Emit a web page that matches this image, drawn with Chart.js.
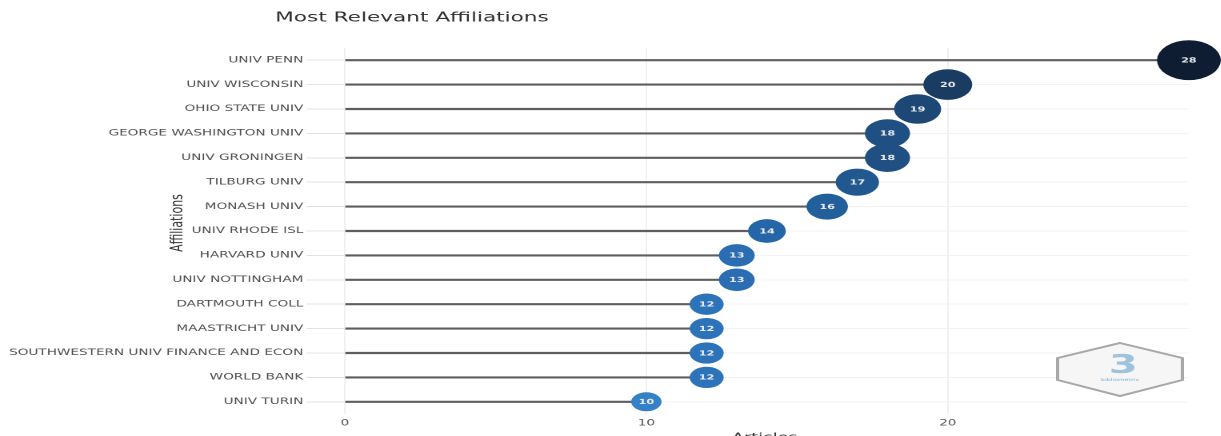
<!DOCTYPE html>
<html>
<head>
<meta charset="utf-8">
<title>Most Relevant Affiliations</title>
<script src="https://cdn.jsdelivr.net/npm/chart.js@4.4.1/dist/chart.umd.min.js"></script>
<style>
  html, body { margin: 0; padding: 0; background: #fff; overflow: hidden; }
  #wrap { width: 1221px; height: 436px; overflow: hidden; }
  /* the reference picture is stretched sideways, so the whole canvas is too */
  #chart { display: block; transform: scaleX(1.6); transform-origin: 0 0; }
</style>
</head>
<body>
<div id="wrap"><canvas id="chart" width="763" height="452"></canvas></div>
<script>
// ---------- Data ----------
const categories = [
  'UNIV PENN', 'UNIV WISCONSIN', 'OHIO STATE UNIV', 'GEORGE WASHINGTON UNIV',
  'UNIV GRONINGEN', 'TILBURG UNIV', 'MONASH UNIV', 'UNIV RHODE ISL',
  'HARVARD UNIV', 'UNIV NOTTINGHAM', 'DARTMOUTH COLL', 'MAASTRICHT UNIV',
  'SOUTHWESTERN UNIV FINANCE AND ECON', 'WORLD BANK', 'UNIV TURIN'
];
const articles = [28, 20, 19, 18, 18, 17, 16, 14, 13, 13, 12, 12, 12, 12, 10];
const xTicks = [0, 10, 20];
const xMax = 28;

// ---------- Styling helpers ----------
// colour by number of articles (darker = more)
const colorStops = [
  [10, [52, 129, 199]], [12, [45, 115, 186]], [13, [42, 109, 179]],
  [14, [37, 102, 168]], [16, [34, 95, 155]], [17, [33, 88, 143]],
  [18, [31, 79, 131]], [19, [29, 71, 116]], [20, [27, 60, 98]],
  [28, [15, 29, 50]]
];
function colorFor(v) {
  for (let i = 0; i < colorStops.length - 1; i++) {
    const [a, ca] = colorStops[i];
    const [b, cb] = colorStops[i + 1];
    if (v >= a && v <= b) {
      const t = (v - a) / (b - a);
      const c = ca.map((x, k) => Math.round(x + (cb[k] - x) * t));
      return `rgb(${c[0]},${c[1]},${c[2]})`;
    }
  }
  return 'rgb(15,29,50)';
}
function radiusFor(v) {
  return 9.5 + (v - 10) * 0.58;
}

const FONT = '"DejaVu Sans", Verdana, sans-serif';

// ---------- Extra drawing: titles, value labels, logo ----------
const decor = {
  id: 'decor',
  beforeDatasetsDraw(chart) {
    const ctx = chart.ctx;
    // bibliometrix style hexagon badge
    const cx = 700, cy = 369;
    ctx.save();
    ctx.beginPath();
    ctx.moveTo(cx, cy - 26);
    ctx.lineTo(cx + 39, cy - 11);
    ctx.lineTo(cx + 39, cy + 11);
    ctx.lineTo(cx, cy + 27);
    ctx.lineTo(cx - 39, cy + 11);
    ctx.lineTo(cx - 39, cy - 11);
    ctx.closePath();
    ctx.fillStyle = '#f6f6f6';
    ctx.fill();
    ctx.lineWidth = 2;
    ctx.strokeStyle = '#a8a8a8';
    ctx.stroke();
    ctx.fillStyle = '#9fc3dc';
    ctx.font = 'bold 26px ' + FONT;
    ctx.textAlign = 'center';
    ctx.textBaseline = 'middle';
    ctx.fillText('3', cx + 2, cy - 3);
    ctx.font = '4px ' + FONT;
    ctx.fillStyle = '#7fb0d4';
    ctx.fillText('bibliometrix', cx, cy + 11);
    ctx.restore();
  },
  afterDatasetsDraw(chart) {
    const ctx = chart.ctx;
    const meta = chart.getDatasetMeta(0);
    ctx.save();
    ctx.fillStyle = '#ececec';
    ctx.font = 'bold 7px ' + FONT;
    ctx.textAlign = 'center';
    ctx.textBaseline = 'middle';
    meta.data.forEach((pt, i) => {
      ctx.fillText(String(articles[i]), pt.x, pt.y + 0.5);
    });
    ctx.restore();
  },
  afterDraw(chart) {
    const ctx = chart.ctx;
    ctx.save();
    // main title
    ctx.fillStyle = '#2e2e2e';
    ctx.font = '13.5px ' + FONT;
    ctx.textAlign = 'left';
    ctx.textBaseline = 'middle';
    ctx.fillText('Most Relevant Affiliations', 172, 18);
    // x axis title (cut off at the bottom, as in the picture)
    ctx.fillStyle = '#333';
    ctx.font = '11px ' + FONT;
    ctx.textAlign = 'center';
    ctx.textBaseline = 'top';
    ctx.fillText('Articles', 478, 432);
    // y axis title
    ctx.translate(111, 223);
    ctx.rotate(-Math.PI / 2);
    ctx.textBaseline = 'middle';
    ctx.fillText('Affiliations', 0, 0);
    ctx.restore();
  }
};

// ---------- Chart ----------
const ctx = document.getElementById('chart').getContext('2d');
const chart = new Chart(ctx, {
  type: 'bar',
  data: {
    labels: categories,
    datasets: [
      {
        type: 'bubble',
        order: 0,
        clip: false,
        data: articles.map((v, i) => ({ x: v, y: categories[i], r: radiusFor(v) })),
        backgroundColor: articles.map(colorFor),
        borderWidth: 0,
        hoverRadius: 0
      },
      {
        type: 'bar',
        order: 1,
        data: articles.map(v => [0, v]),
        backgroundColor: '#5e5e5e',
        barThickness: 1.5,
        borderWidth: 0
      }
    ]
  },
  options: {
    indexAxis: 'y',
    responsive: false,
    animation: false,
    devicePixelRatio: 2,
    layout: { padding: { top: 48, right: 1, left: 0, bottom: 0 } },
    plugins: {
      legend: { display: false },
      tooltip: { enabled: false },
      title: { display: false }
    },
    scales: {
      y: {
        type: 'category',
        offset: true,
        border: { display: false },
        grid: {
          offset: false,
          color: '#f3f3f3',
          tickColor: '#e2e2e2',
          tickLength: 24,
          lineWidth: 1
        },
        ticks: {
          color: '#4d4d4d',
          padding: 2,
          font: { family: FONT, size: 8.5 }
        },
        afterFit(scale) { scale.width = 215.6; }
      },
      x: {
        type: 'linear',
        min: 0,
        max: xMax,
        border: { display: false },
        grid: { color: '#f0f0f0', drawTicks: false },
        ticks: {
          color: '#555',
          padding: 4,
          font: { family: FONT, size: 8.5 }
        },
        afterBuildTicks(scale) { scale.ticks = xTicks.map(v => ({ value: v })); },
        afterFit(scale) { scale.height = 38; }
      }
    }
  },
  plugins: [decor]
});
</script>
</body>
</html>
